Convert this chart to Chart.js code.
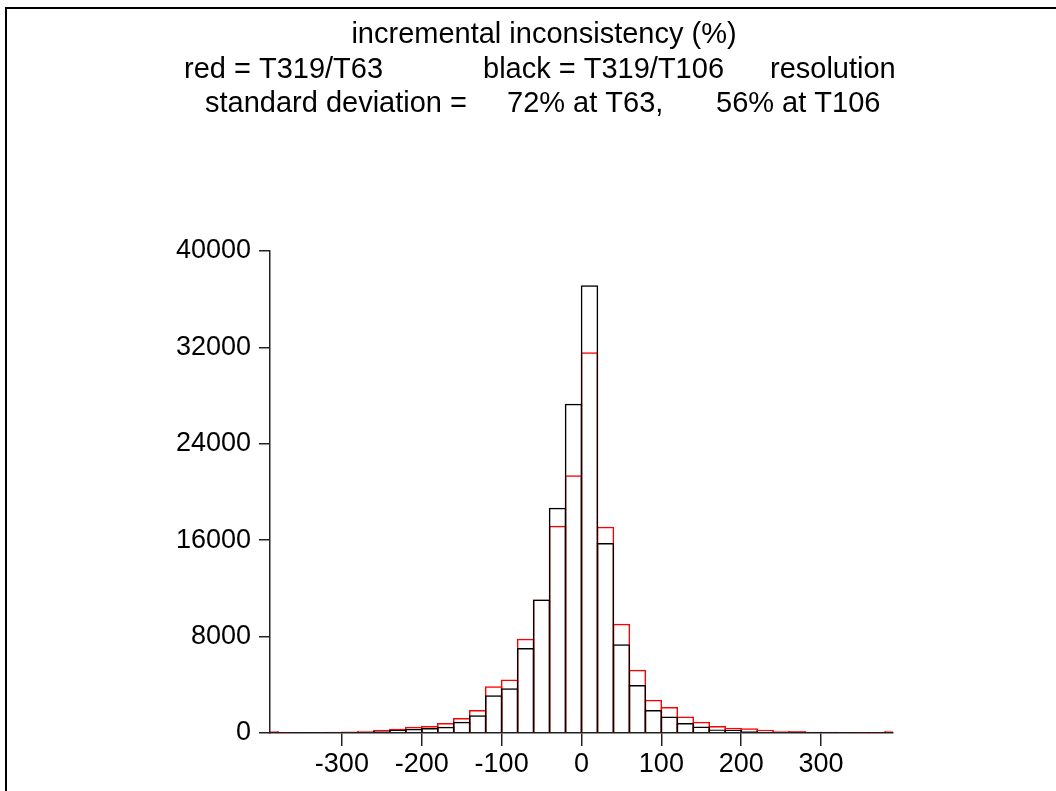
<!DOCTYPE html>
<html>
<head>
<meta charset="utf-8">
<script src="https://cdn.jsdelivr.net/npm/chart.js@4.4.1/dist/chart.umd.min.js"></script>
<style>
  html, body { margin: 0; padding: 0; background: #fff; }
</style>
</head>
<body>
<canvas id="chart" width="1056" height="791"></canvas>
<script>
// bin centres (bins 20 % wide, the outer two are half bins at the axis ends)
const binCenters = [
  -390, -370, -350, -330, -310, -290, -270, -250, -230, -210,
  -190, -170, -150, -130, -110, -90, -70, -50, -30, -10,
  10, 30, 50, 70, 90, 110, 130, 150, 170, 190,
  210, 230, 250, 270, 290, 310, 330, 350, 370, 390
]
// red = T319/T63
const redCounts = [
  170, 5, 70, 80, 110, 120, 190, 280, 360, 520,
  580, 830, 1250, 1900, 3870, 4450, 7830, 11070, 17200, 21380,
  31590, 17120, 9070, 5250, 2750, 2160, 1360, 940, 580, 440,
  390, 280, 190, 160, 110, 100, 80, 10, 5, 190
]
// black = T319/T106
const blackCounts = [
  60, 2, 20, 25, 40, 55, 110, 170, 250, 360,
  415, 525, 940, 1470, 3130, 3710, 7050, 11070, 18700, 27330,
  37150, 15770, 7360, 3980, 1910, 1360, 830, 530, 300, 250,
  170, 110, 60, 50, 30, 30, 20, 5, 5, 60
]
const xTicks = [-300, -200, -100, 0, 100, 200, 300]
const yTicks = [0, 8000, 16000, 24000, 32000, 40000]

const titleLine1 = 'incremental inconsistency (%)'
const titleLine2 = ['red = T319/T63', 'black = T319/T106', 'resolution']
const titleLine3 = ['standard deviation =', '72% at T63,', '56% at T106']

const FONT = '"Liberation Sans", Arial, sans-serif'

// frame and the three title lines
const headerPlugin = {
  id: 'header',
  afterDraw (chart) {
    const ctx = chart.ctx
    ctx.save()
    ctx.strokeStyle = '#000'
    ctx.lineWidth = 2
    ctx.beginPath()
    ctx.moveTo(6, chart.height)
    ctx.lineTo(6, 8)
    ctx.lineTo(chart.width, 8)
    ctx.stroke()

    ctx.fillStyle = '#000'
    ctx.font = '29px ' + FONT
    ctx.textBaseline = 'alphabetic'
    ctx.textAlign = 'center'
    ctx.fillText(titleLine1, 544, 43)
    ctx.textAlign = 'left'
    const starts2 = [184, 483, 770]
    titleLine2.forEach((t, i) => ctx.fillText(t, starts2[i], 78))
    const starts3 = [205, 507, 716]
    titleLine3.forEach((t, i) => ctx.fillText(t, starts3[i], 112))
    ctx.restore()
  }
}

// bars widened by one border width so neighbouring edges share one line
const BORDER = 1.5
const barStyle = {
  backgroundColor: 'rgba(0,0,0,0)',
  borderWidth: BORDER,
  borderSkipped: 'start',
  grouped: false,
  barPercentage: (16 + BORDER) / 16,
  categoryPercentage: 1
}

const ctx = document.getElementById('chart').getContext('2d')

const chart = new Chart(ctx, {
  type: 'bar',
  data: {
    datasets: [
      Object.assign({
        label: 'T319/T106',
        data: binCenters.map((x, i) => ({ x: x, y: blackCounts[i] })),
        borderColor: '#000',
        order: 0
      }, barStyle),
      Object.assign({
        label: 'T319/T63',
        data: binCenters.map((x, i) => ({ x: x, y: redCounts[i] })),
        borderColor: '#ff0000',
        order: 1
      }, barStyle)
    ]
  },
  options: {
    responsive: false,
    animation: false,
    layout: { padding: { left: 0, right: 163, top: 251, bottom: 0 } },
    plugins: {
      legend: { display: false },
      title: { display: false },
      tooltip: { enabled: false }
    },
    scales: {
      x: {
        type: 'linear',
        min: -390,
        max: 390,
        offset: false,
        afterBuildTicks: (axis) => { axis.ticks = xTicks.map(v => ({ value: v })) },
        afterFit: (scale) => { scale.height = 58 },
        grid: {
          display: true,
          offset: false,
          drawOnChartArea: false,
          drawTicks: true,
          tickLength: 13,
          color: '#222',
          lineWidth: 1.5
        },
        border: { display: true, color: '#222', width: 1.5 },
        ticks: {
          color: '#000',
          font: { family: FONT, size: 27 },
          padding: 2,
          maxRotation: 0,
          autoSkip: false,
          callback: (v) => String(v)
        }
      },
      y: {
        min: 0,
        max: 40000,
        afterBuildTicks: (axis) => { axis.ticks = yTicks.map(v => ({ value: v })) },
        afterFit: (scale) => { scale.width = 270 },
        grid: {
          display: true,
          drawOnChartArea: false,
          drawTicks: true,
          tickLength: 11,
          color: '#222',
          lineWidth: 1.5
        },
        border: { display: true, color: '#222', width: 1.5 },
        ticks: {
          color: '#000',
          font: { family: FONT, size: 27 },
          padding: 8,
          autoSkip: false,
          callback: (v) => String(v)
        }
      }
    }
  },
  plugins: [headerPlugin]
})
</script>
</body>
</html>
